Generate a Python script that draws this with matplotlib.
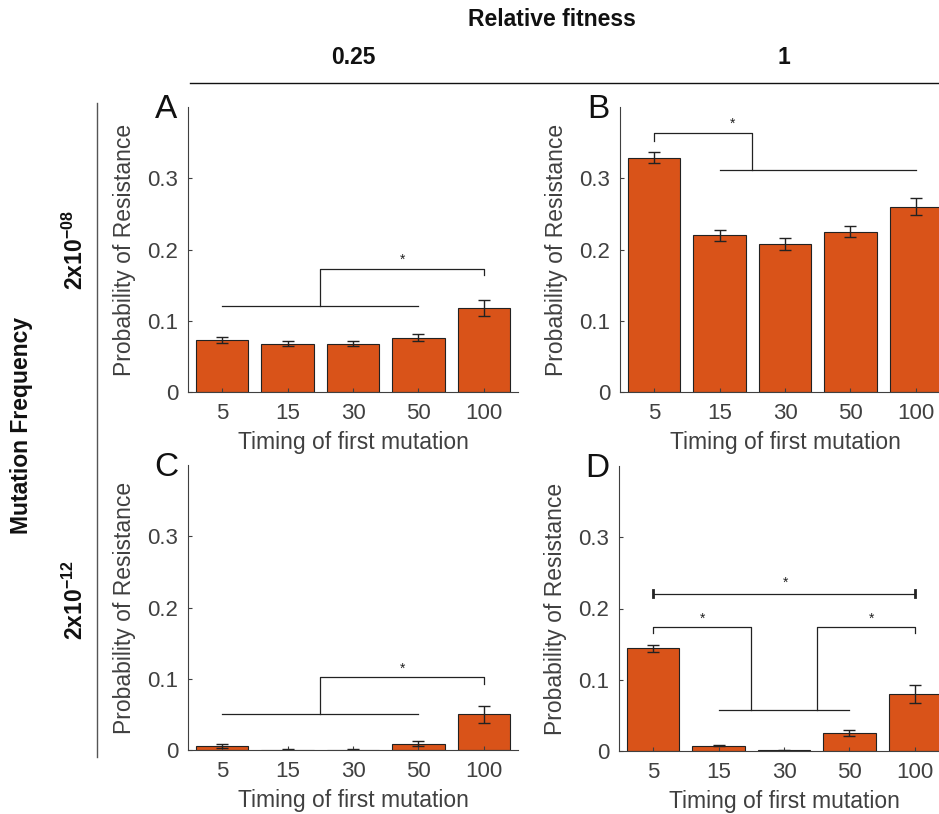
import numpy as np
import matplotlib
matplotlib.use('Agg')
import matplotlib.pyplot as plt

plt.rcParams['font.family'] = ['Liberation Sans', 'DejaVu Sans']
plt.rcParams['mathtext.fontset'] = 'custom'
plt.rcParams['mathtext.rm'] = 'Liberation Sans'
plt.rcParams['mathtext.bf'] = 'Liberation Sans:bold'

timings = ['5', '15', '30', '50', '100']

# probability of resistance and errors, per panel
prob_a = [0.073, 0.068, 0.068, 0.076, 0.118]
err_a = [0.004, 0.003, 0.003, 0.005, 0.011]
prob_b = [0.329, 0.220, 0.208, 0.225, 0.260]
err_b = [0.008, 0.008, 0.008, 0.008, 0.012]
prob_c = [0.006, 0.0005, 0.0005, 0.009, 0.050]
err_c = [0.003, 0.0003, 0.0003, 0.004, 0.012]
prob_d = [0.144, 0.0075, 0.001, 0.025, 0.080]
err_d = [0.005, 0.0005, 0.0003, 0.004, 0.012]

bar_color = '#D95319'
gray = '#404040'

fig = plt.figure(figsize=(9.39, 8.14), dpi=100)

pos = {
    'A': [188 / 939, 1 - 392 / 814, 330 / 939, 285 / 814],
    'B': [620 / 939, 1 - 392 / 814, 330 / 939, 285 / 814],
    'C': [188 / 939, 1 - 750 / 814, 330 / 939, 285 / 814],
    'D': [619 / 939, 1 - 751 / 814, 330 / 939, 285 / 814],
}
data = {'A': (prob_a, err_a), 'B': (prob_b, err_b),
        'C': (prob_c, err_c), 'D': (prob_d, err_d)}

axes = {}
x = np.arange(1, 6)
for key in ['A', 'B', 'C', 'D']:
    ax = fig.add_axes(pos[key])
    p, e = data[key]
    ax.bar(x, p, width=0.8, color=bar_color, edgecolor='#222222', linewidth=0.8)
    ax.errorbar(x, p, yerr=e, fmt='none', ecolor='#222222', elinewidth=1,
                capsize=4, capthick=1)
    ax.set_xlim(0.48, 5.52)
    ax.set_ylim(0, 0.4)
    ax.set_yticks([0, 0.1, 0.2, 0.3])
    ax.set_yticklabels(['0', '0.1', '0.2', '0.3'])
    ax.set_xticks(x)
    ax.set_xticklabels(timings)
    for s in ['top', 'right']:
        ax.spines[s].set_visible(False)
    for s in ['left', 'bottom']:
        ax.spines[s].set_color(gray)
        ax.spines[s].set_linewidth(0.8)
    ax.tick_params(direction='in', length=3, colors=gray, labelsize=16,
                   labelcolor=gray, width=0.8)
    ax.tick_params(axis='x', pad=8)
    ax.tick_params(axis='y', pad=7)
    ax.set_xlabel('Timing of first mutation', fontsize=16.5, color=gray, labelpad=5)
    ax.set_ylabel('Probability of Resistance', fontsize=16.5, color=gray, labelpad=8)
    ax.text(-0.067, 0.99, key, transform=ax.transAxes, fontsize=24,
            ha='center', va='center', color='#111111')
    axes[key] = ax

lc = '#222222'
lw = 0.9

def line(ax, xs, ys):
    ax.plot(xs, ys, color=lc, lw=lw, clip_on=False)

def star(ax, xs, ys):
    ax.text(xs, ys, '*', ha='center', va='center', fontsize=10, color=lc)

# A
ax = axes['A']
line(ax, [1, 4], [0.121, 0.121])
line(ax, [2.5, 2.5, 5, 5], [0.121, 0.173, 0.173, 0.164])
star(ax, 3.76, 0.186)

# B
ax = axes['B']
line(ax, [1, 1, 2.5, 2.5], [0.352, 0.363, 0.363, 0.311])
line(ax, [2, 5], [0.311, 0.311])
star(ax, 2.2, 0.376)

# C
ax = axes['C']
line(ax, [1, 4], [0.050, 0.050])
line(ax, [2.5, 2.5, 5, 5], [0.050, 0.102, 0.102, 0.093])
star(ax, 3.76, 0.114)

# D
ax = axes['D']
line(ax, [1, 5], [0.221, 0.221])
ax.plot([1, 1], [0.216, 0.226], color=lc, lw=2)
ax.plot([5, 5], [0.216, 0.226], color=lc, lw=2)
star(ax, 3.03, 0.236)
line(ax, [1, 1, 2.5, 2.5], [0.165, 0.174, 0.174, 0.058])
line(ax, [2, 4], [0.058, 0.058])
line(ax, [3.5, 3.5, 5, 5], [0.058, 0.174, 0.174, 0.165])
star(ax, 1.75, 0.185)
star(ax, 4.33, 0.185)

# header
hdr = dict(ha='center', va='center', fontsize=16.5, fontweight='bold', color='#111111')
fig.text(552 / 939, 1 - 19 / 814, 'Relative fitness', **hdr)
fig.text(353 / 939, 1 - 57 / 814, '0.25', **hdr)
fig.text(784 / 939, 1 - 57 / 814, '1', **hdr)
fig.add_artist(plt.Line2D([190 / 939, 1.0], [1 - 83 / 814, 1 - 83 / 814],
                          color='#111111', lw=1))

# left side
fig.text(22 / 939, 1 - 425 / 814, 'Mutation Frequency', rotation=90, **hdr)
fig.add_artist(plt.Line2D([97 / 939, 97 / 939], [1 - 103 / 814, 1 - 757 / 814],
                          color='#555555', lw=1))
fig.text(75 / 939, 1 - 250 / 814, r'2x10$^{\mathbf{-08}}$', rotation=90, **hdr)
fig.text(75 / 939, 1 - 600 / 814, r'2x10$^{\mathbf{-12}}$', rotation=90, **hdr)

fig.savefig('out.png', dpi=100)
